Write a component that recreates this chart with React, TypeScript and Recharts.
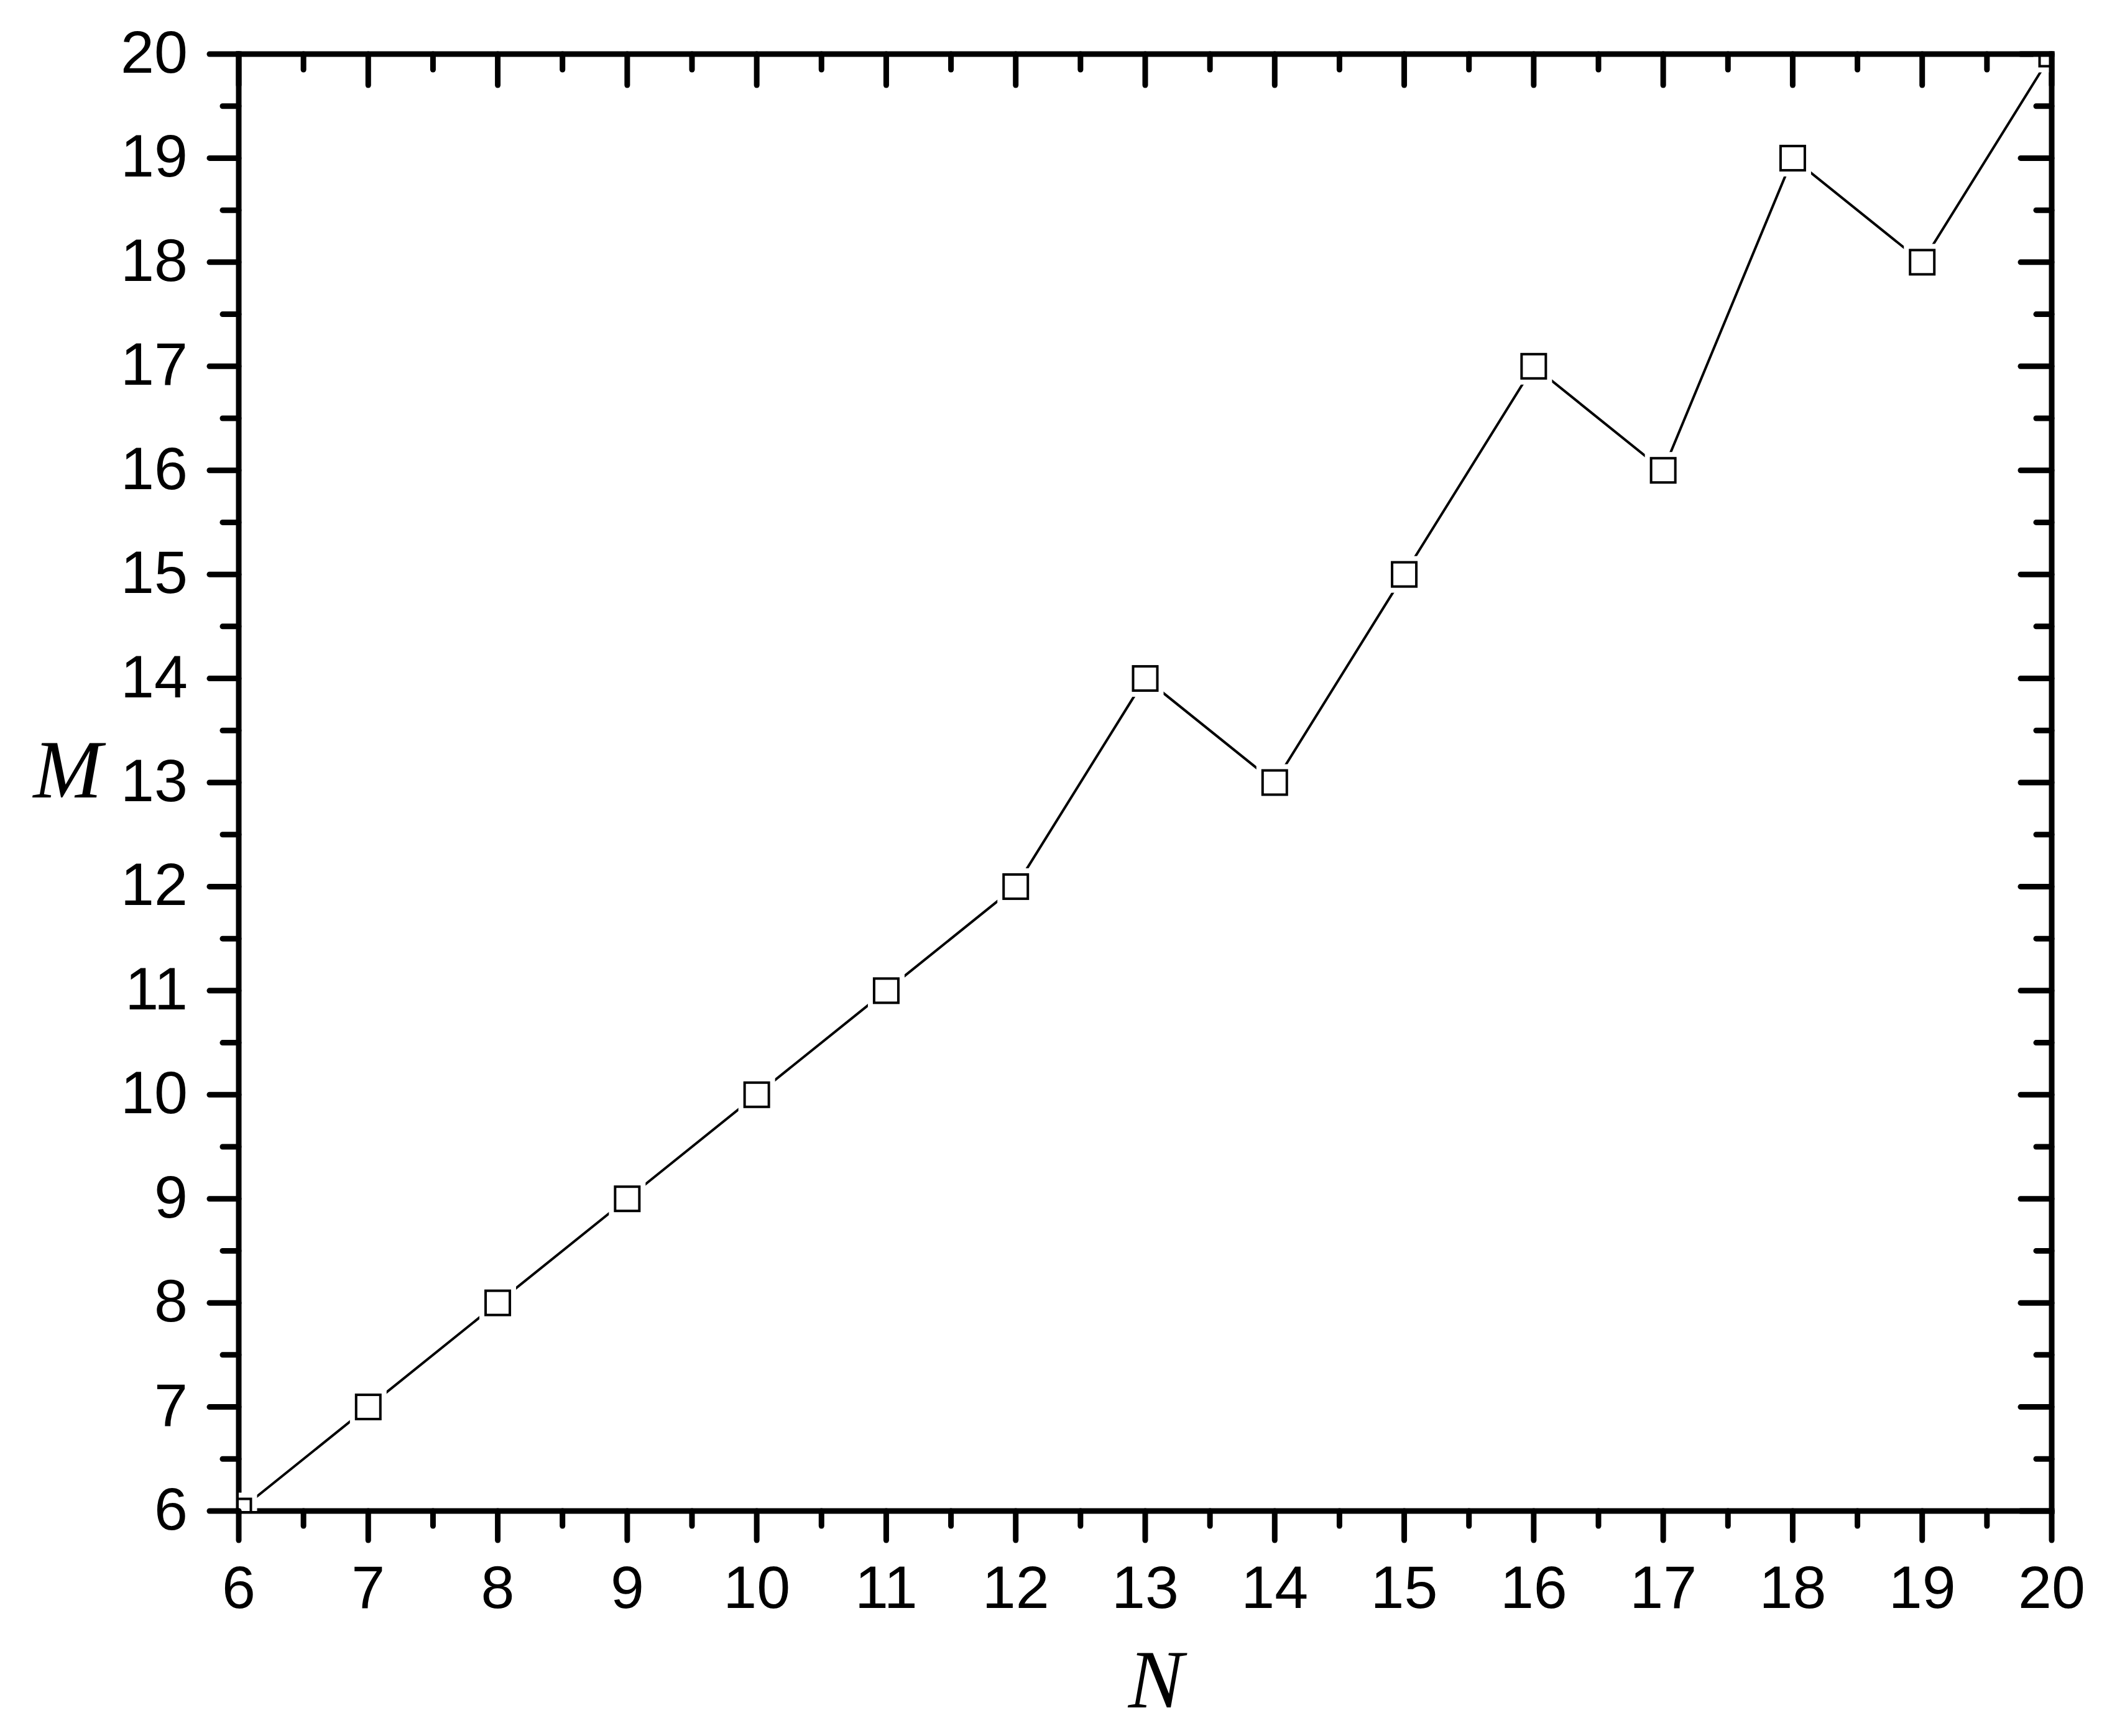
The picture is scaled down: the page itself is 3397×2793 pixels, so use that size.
import React from 'react';
import { LineChart, Line, XAxis, YAxis } from 'recharts';

const nValues = [6, 7, 8, 9, 10, 11, 12, 13, 14, 15, 16, 17, 18, 19, 20];
const mValues = [6, 7, 8, 9, 10, 11, 12, 14, 13, 15, 17, 16, 19, 18, 20];
const majorTicks = [6, 7, 8, 9, 10, 11, 12, 13, 14, 15, 16, 17, 18, 19, 20];
const minorTicks = [6.5, 7.5, 8.5, 9.5, 10.5, 11.5, 12.5, 13.5, 14.5, 15.5, 16.5, 17.5, 18.5, 19.5];

const data = nValues.map((n, i) => ({ n, m: mValues[i] }));
const allTicks = [...majorTicks, ...minorTicks].sort((a, b) => a - b);

const W = 3380;
const H = 2770;
const LEFT = 376;
const TOP = 79;
const RIGHT = 88;
const BOTTOM = 347;
const PLOT_W = W - LEFT - RIGHT;
const PLOT_H = H - TOP - BOTTOM;

const FONT = "'Liberation Sans', Arial, sans-serif";
const SERIF = "'Liberation Serif', 'Times New Roman', serif";
const TW = 9;

const isMajor = (v: number) => Number.isInteger(v);

// bottom axis tick: outward tick + label, plus mirrored inward tick on the top frame
const BottomTick = (props: any) => {
  const { x, y, payload } = props;
  const v = payload.value;
  const major = isMajor(v);
  const topY = y - PLOT_H;
  return (
    <g>
      <line x1={x} y1={y} x2={x} y2={y + (major ? 47 : 24)} stroke="#000" strokeWidth={TW} strokeLinecap="round" />
      <line x1={x} y1={topY} x2={x} y2={topY + (major ? 50 : 25)} stroke="#000" strokeWidth={TW} strokeLinecap="round" />
      {major && (
        <text x={x} y={y + 156} textAnchor="middle" fontFamily={FONT} fontSize={97} fill="#000">
          {v}
        </text>
      )}
    </g>
  );
};

// left axis tick: outward tick + label, plus mirrored inward tick on the right frame
const LeftTick = (props: any) => {
  const { x, y, payload } = props;
  const v = payload.value;
  const major = isMajor(v);
  const rightX = x + PLOT_W;
  return (
    <g>
      <line x1={x} y1={y} x2={x - (major ? 47 : 26)} y2={y} stroke="#000" strokeWidth={TW} strokeLinecap="round" />
      <line x1={rightX} y1={y} x2={rightX - (major ? 50 : 25)} y2={y} stroke="#000" strokeWidth={TW} strokeLinecap="round" />
      {major && (
        <text x={x - 82} y={y + 30} textAnchor="end" fontFamily={FONT} fontSize={97} fill="#000">
          {v}
        </text>
      )}
    </g>
  );
};

const SquareDot = (props: any) => {
  const { cx, cy } = props;
  if (cx == null || cy == null) return null;
  const s = 39;
  const halo = 59;
  return (
    <g>
      <rect x={cx - halo / 2} y={cy - halo / 2} width={halo} height={halo} fill="#fff" stroke="none" />
      <rect x={cx - s / 2} y={cy - s / 2} width={s} height={s} fill="#fff" stroke="#000" strokeWidth={4} />
    </g>
  );
};

const XLabel = (props: any) => {
  const vb = props.viewBox || {};
  return (
    <text x={vb.x + vb.width / 2 + 17} y={vb.y + 316} textAnchor="middle" fontFamily={SERIF} fontStyle="italic" fontSize={133} fill="#000">
      N
    </text>
  );
};

const YLabel = (props: any) => {
  const vb = props.viewBox || {};
  return (
    <text x={101} y={vb.y + vb.height / 2 + 24} textAnchor="middle" fontFamily={SERIF} fontStyle="italic" fontSize={133} fill="#000">
      M
    </text>
  );
};

const axisLineStyle = { stroke: '#000', strokeWidth: TW, strokeLinecap: 'square' as const };

export default function App() {
  return (
    <div style={{ width: W, height: H, background: '#fff' }}>
      <LineChart width={W} height={H} data={data} margin={{ top: 0, right: 0, bottom: 0, left: 0 }}>
        <Line
          xAxisId="b"
          yAxisId="l"
          type="linear"
          dataKey="m"
          stroke="#000"
          strokeWidth={4}
          dot={<SquareDot r={0} strokeWidth={0} />}
          activeDot={false}
          isAnimationActive={false}
        />
        <XAxis
          xAxisId="t"
          orientation="top"
          type="number"
          domain={[6, 20]}
          ticks={majorTicks}
          allowDataOverflow
          height={TOP}
          tickLine={false}
          axisLine={axisLineStyle}
          tick={false}
        />
        <YAxis
          yAxisId="r"
          orientation="right"
          type="number"
          domain={[6, 20]}
          ticks={majorTicks}
          allowDataOverflow
          width={RIGHT}
          tickLine={false}
          axisLine={axisLineStyle}
          tick={false}
        />
        <XAxis
          xAxisId="b"
          dataKey="n"
          type="number"
          domain={[6, 20]}
          ticks={allTicks}
          interval={0}
          allowDataOverflow
          height={BOTTOM}
          tickSize={0}
          tickMargin={0}
          tickLine={false}
          axisLine={axisLineStyle}
          tick={<BottomTick />}
          label={{ content: <XLabel /> }}
        />
        <YAxis
          yAxisId="l"
          type="number"
          domain={[6, 20]}
          ticks={allTicks}
          interval={0}
          allowDataOverflow
          width={LEFT}
          tickSize={0}
          tickMargin={0}
          tickLine={false}
          axisLine={axisLineStyle}
          tick={<LeftTick />}
          label={{ content: <YLabel /> }}
        />
      </LineChart>
    </div>
  );
}
